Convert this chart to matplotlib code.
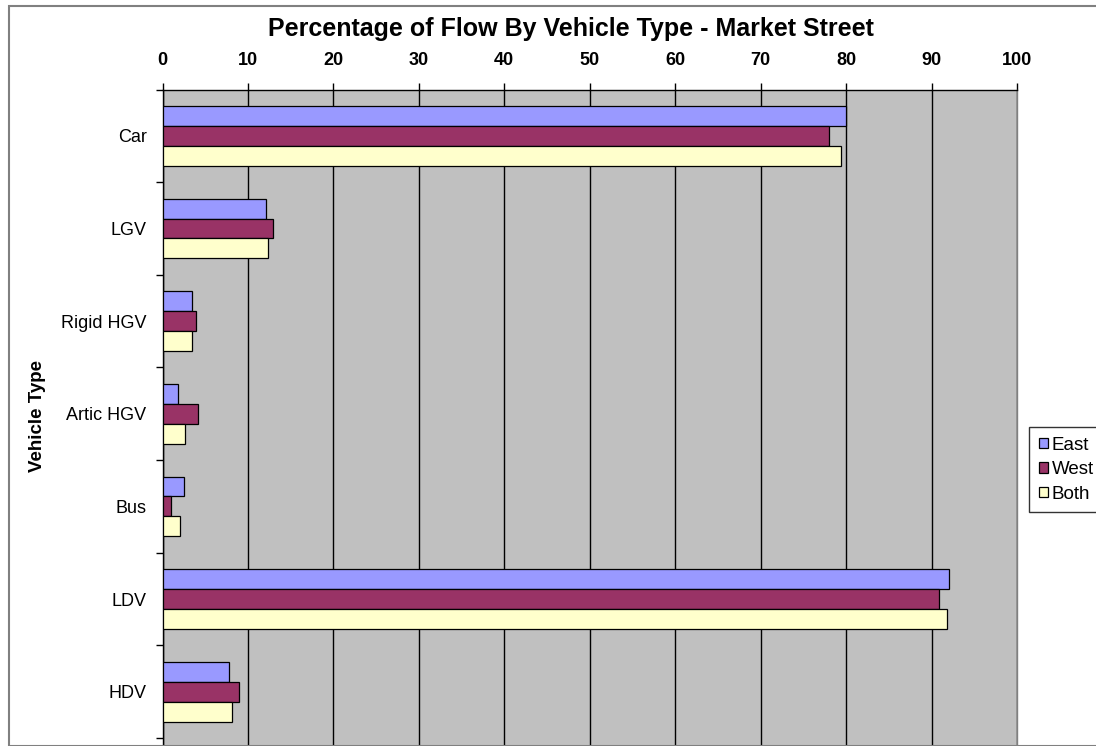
import matplotlib
matplotlib.use("Agg")
import matplotlib.pyplot as plt
from matplotlib.patches import Rectangle
import numpy as np

plt.rcParams['font.family'] = ['Liberation Sans', 'DejaVu Sans']

categories = ["Car", "LGV", "Rigid HGV", "Artic HGV", "Bus", "LDV", "HDV"]
east = [80.0, 12.1, 3.4, 1.8, 2.5, 92.0, 7.8]
west = [78.0, 12.9, 3.9, 4.1, 1.0, 90.9, 9.0]
both = [79.4, 12.4, 3.5, 2.6, 2.0, 91.8, 8.1]
series_names = ["East", "West", "Both"]
colors = ["#9999FF", "#993366", "#FFFFCC"]
xticks = list(range(0, 101, 10))

W, H = 1096, 746
fig = plt.figure(figsize=(W / 100, H / 100), dpi=100)

# figure border
fig.patches.append(Rectangle((8.5 / W, 0), 2, 1 - 6 / H, transform=fig.transFigure,
                             fill=False, edgecolor="#808080", linewidth=1.5))

ax = fig.add_axes([162.5 / W, 0, (1017 - 162.5) / W, (746 - 89.5) / H])
ax.set_facecolor("#C0C0C0")

y = np.arange(len(categories))
h = 0.215
for i, (vals, name, col) in enumerate(zip([east, west, both], series_names, colors)):
    ax.barh(y + (i - 1) * h, vals, height=h, color=col, edgecolor="black",
            linewidth=0.9, label=name, zorder=3)

ax.set_xlim(0, 100)
ax.set_ylim(len(categories) - 0.5 + 8 / 92.64, -0.5)
ax.set_xticks(xticks)
ax.xaxis.tick_top()
ax.tick_params(axis='x', direction='out', length=5, pad=10, labelsize=13, width=1)
for lab in ax.get_xticklabels():
    lab.set_fontweight('bold')
ax.xaxis.grid(True, color='black', linewidth=1, zorder=1)
ax.set_axisbelow(True)

ax.set_yticks(np.arange(-0.5, len(categories) + 0.5, 1))
ax.set_yticklabels([])
ax.set_yticks(y, minor=True)
ax.set_yticklabels(categories, minor=True, fontsize=13)
ax.tick_params(axis='y', which='major', direction='out', length=5, width=1)
ax.tick_params(axis='y', which='minor', length=0, pad=11.5)

ax.spines['top'].set_color('black')
ax.spines['left'].set_color('black')
ax.spines['right'].set_color('#808080')
ax.spines['bottom'].set_visible(False)
for s in ax.spines.values():
    s.set_linewidth(1)

fig.text(571 / W, 1 - 29 / H, "Percentage of Flow By Vehicle Type - Market Street",
         ha='center', va='center', fontsize=18, fontweight='bold')
fig.text(37 / W, 1 - 416 / H, "Vehicle Type", rotation=90, ha='center', va='center',
         fontsize=13.5, fontweight='bold')

leg = fig.legend(loc='upper left', bbox_to_anchor=(1029.3 / W, 1 - 427.3 / H),
                 fontsize=13.5, frameon=True, fancybox=False, edgecolor='black',
                 handlelength=0.5, handleheight=0.5, handletextpad=0.2,
                 labelspacing=0.4, borderpad=0.5, borderaxespad=0)
leg.get_frame().set_linewidth(1)

fig.savefig("out.png", dpi=100)
